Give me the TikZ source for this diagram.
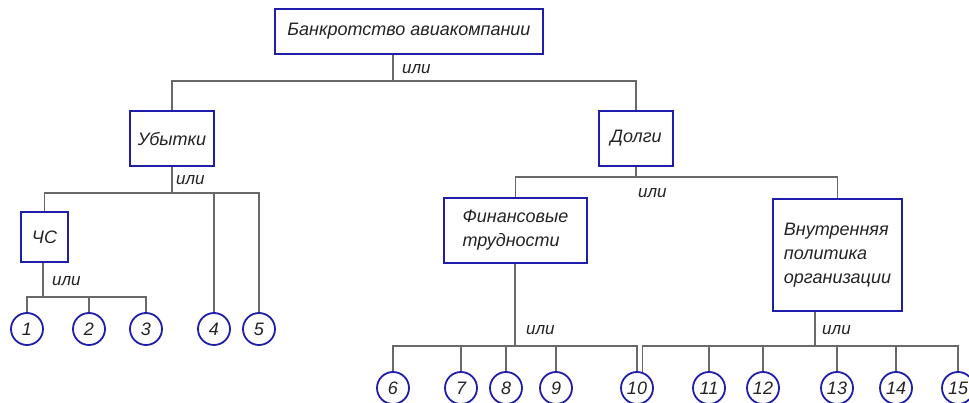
\documentclass[tikz,border=0pt]{standalone}
\usepackage{fontspec}
\setmainfont{Liberation Sans}
\usetikzlibrary{positioning}
\usetikzlibrary{calc}

\definecolor{boxblue}{RGB}{30,30,170}
\definecolor{linkgray}{RGB}{105,105,105}
\definecolor{textgray}{RGB}{35,35,35}

\begin{document}
\begin{tikzpicture}[x=1pt, y=-1pt,
    box/.style     = {draw=boxblue, line width=2pt, rectangle, inner sep=0pt, text=textgray,
                      font=\fontsize{18}{24}\selectfont\itshape, align=left},
    num/.style     = {draw=boxblue, line width=1.8pt, circle, minimum size=32pt, inner sep=0pt,
                      text=textgray, font=\fontsize{18}{20}\selectfont\itshape},
    link/.style    = {draw=linkgray, line width=1.1pt},
    orlabel/.style = {anchor=west, inner sep=0pt, text=textgray, font=\fontsize{17}{20}\selectfont\itshape}]
    \useasboundingbox (0,0) rectangle (969,403);

    \node[box, minimum width=268pt, minimum height=45pt]  (bankrot) at (409,31.5)   {Банкротство авиакомпании};
    \node[box, minimum width=84pt,  minimum height=55pt]  (ubytki)  at (172,138.5)  {Убытки};
    \node[box, minimum width=74pt,  minimum height=55pt]  (dolgi)   at (636,138.5)  {Долги};
    \node[box, minimum width=47pt,  minimum height=50pt]  (chs)     at (44.5,237)   {ЧС};
    \node[box, minimum width=143pt, minimum height=65pt]  (finans)  at (515.5,230.5){Финансовые\\трудности};
    \node[box, minimum width=129pt, minimum height=112pt] (politika) at (837.5,255) {Внутренняя\\политика\\организации};

    \foreach \n/\x in {1/27, 2/89, 3/146, 4/214, 5/259}
        \node[num] (c\n) at (\x,329) {\n};
    \foreach \n/\x in {6/393, 7/461, 8/506, 9/556, 10/637, 11/709, 12/763, 13/837, 14/896, 15/958}
        \node[num] (c\n) at (\x,388) {\n};

    \coordinate (jtop) at (393,81);
    \coordinate (jub)  at (172,193);
    \coordinate (jchs) at (43,297);
    \coordinate (jdol) at (636,177);
    \coordinate (jfin) at (515,346);
    \coordinate (jpol) at (815,346);

    \draw[link] (jtop |- bankrot.south) -- (jtop);
    \draw[link] (ubytki.north) |- (jtop) -| (dolgi.north);

    \draw[link] (ubytki.south) -- (jub);
    \draw[link] (jub) -| (chs.north);
    \draw[link] (jub) -| (c4.north);
    \draw[link] (jub) -| (c5.north);

    \draw[link] (jchs |- chs.south) -- (jchs);
    \foreach \n in {1,2,3}
        \draw[link] (jchs) -| (c\n.north);

    \draw[link] (dolgi.south) -- (jdol);
    \draw[link] (finans.north) |- (jdol) -| (politika.north);

    \draw[link] (jfin |- finans.south) -- (jfin);
    \foreach \n in {6,...,10}
        \draw[link] (jfin) -| (c\n.north);

    \draw[link] (jpol |- politika.south) -- (jpol);
    \draw[link] (jpol) -| (c10.72);
    \foreach \n in {11,...,15}
        \draw[link] (jpol) -| (c\n.north);

    \node[orlabel] (ortop) at (402,69)  {или};
    \node[orlabel] (orub)  at (176,180) {или};
    \node[orlabel] (orchs) at (52,281)  {или};
    \node[orlabel] (ordol) at (638,193) {или};
    \node[orlabel] (orfin) at (526,330) {или};
    \node[orlabel] (orpol) at (822,330) {или};
\end{tikzpicture}
\end{document}
